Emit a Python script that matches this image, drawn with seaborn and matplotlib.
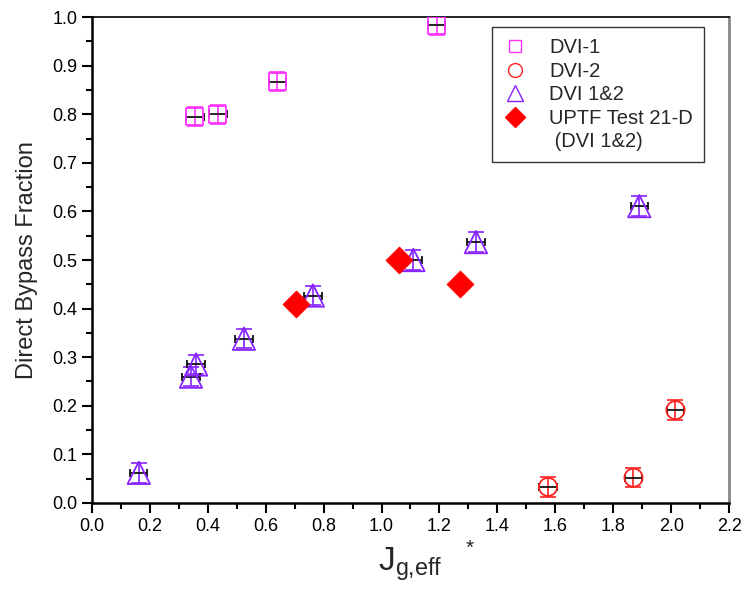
import matplotlib
matplotlib.use("Agg")
import matplotlib.pyplot as plt
import seaborn as sns
import pandas as pd
import numpy as np
from matplotlib.lines import Line2D
from matplotlib.ticker import MultipleLocator

sns.set_style("ticks")
plt.rcParams['font.family'] = ['Liberation Sans', 'DejaVu Sans']
plt.rcParams['mathtext.fontset'] = 'custom'
plt.rcParams['mathtext.rm'] = 'Liberation Sans'
plt.rcParams['mathtext.it'] = 'Liberation Sans'

# Data
dvi1_x = [0.356, 0.435, 0.64, 1.19]
dvi1_y = [0.795, 0.800, 0.867, 0.983]
dvi2_x = [1.575, 1.87, 2.015]
dvi2_y = [0.033, 0.052, 0.191]
dvi12_x = [0.162, 0.342, 0.36, 0.525, 0.763, 1.11, 1.326, 1.89]
dvi12_y = [0.062, 0.260, 0.285, 0.338, 0.427, 0.500, 0.537, 0.611]
uptf_x = [0.705, 1.06, 1.27]
uptf_y = [0.410, 0.500, 0.450]
xerr_val = 0.03
yerr_val = 0.02

series = ["DVI-1", "DVI-2", "DVI 1&2", "UPTF Test 21-D"]
frames = []
for name, xs, ys in [("DVI-1", dvi1_x, dvi1_y), ("DVI-2", dvi2_x, dvi2_y),
                     ("DVI 1&2", dvi12_x, dvi12_y), ("UPTF Test 21-D", uptf_x, uptf_y)]:
    frames.append(pd.DataFrame({"x": xs, "y": ys, "series": name}))
df = pd.concat(frames, ignore_index=True)

colors = {"DVI-1": "#ff33ff", "DVI-2": "#ff2020", "DVI 1&2": "#8822ff", "UPTF Test 21-D": "#ff0000"}
markers = {"DVI-1": "s", "DVI-2": "o", "DVI 1&2": "^", "UPTF Test 21-D": "D"}
sizes = {"DVI-1": 150, "DVI-2": 170, "DVI 1&2": 260, "UPTF Test 21-D": 190}

fig = plt.figure(figsize=(7.47, 5.91), dpi=100)
ax = fig.add_axes([0.123, 0.149, 0.853, 0.822])

for name in ["DVI-1", "DVI-2", "DVI 1&2"]:
    sub = df[df.series == name]
    ax.errorbar(sub.x, sub.y, yerr=yerr_val, fmt='none', ecolor=colors[name],
                elinewidth=1.2, capsize=6, capthick=1.2, zorder=2)
    ax.errorbar(sub.x, sub.y, xerr=xerr_val, fmt='none', ecolor='black',
                elinewidth=1.2, capsize=3, capthick=1.2, zorder=3)

for name in series:
    sub = df[df.series == name]
    if name == "UPTF Test 21-D":
        sns.scatterplot(data=sub, x="x", y="y", marker=markers[name], s=sizes[name],
                        color=colors[name], edgecolor=colors[name], linewidth=0.5,
                        ax=ax, zorder=4, legend=False)
    else:
        sns.scatterplot(data=sub, x="x", y="y", marker=markers[name], s=sizes[name],
                        facecolor='none', edgecolor=colors[name], linewidth=1.3,
                        ax=ax, zorder=4, legend=False)

ax.set_xlim(0, 2.2)
ax.set_ylim(0, 1.0)
xt = np.round(np.arange(0, 2.21, 0.2), 1)
yt = np.round(np.arange(0, 1.01, 0.1), 1)
ax.set_xticks(xt)
ax.set_xticklabels([f"{v:.1f}" for v in xt])
ax.set_yticks(yt)
ax.set_yticklabels([f"{v:.1f}" for v in yt])
ax.xaxis.set_minor_locator(MultipleLocator(0.1))
ax.yaxis.set_minor_locator(MultipleLocator(0.05))
ax.tick_params(which='major', direction='out', length=7, width=1.5, labelsize=13, color='black', labelcolor='black')
ax.tick_params(which='minor', direction='out', length=4, width=1.5, color='black')
for side in ['left', 'bottom']:
    ax.spines[side].set_linewidth(1.8)
    ax.spines[side].set_color('black')
ax.spines['top'].set_linewidth(1.2)
ax.spines['top'].set_color('black')
ax.spines['right'].set_linewidth(2.0)
ax.spines['right'].set_color('#888888')

ax.set_ylabel("Direct Bypass Fraction", fontsize=17, labelpad=10)
ax.set_xlabel(r"$\mathregular{J_{g{,}eff}}$", fontsize=24, labelpad=8)
fig.text(470 / 747, 1 - 548 / 591, "*", fontsize=15, ha='center', va='center')

handles = [
    Line2D([], [], marker='s', linestyle='none', markerfacecolor='none', markeredgecolor=colors["DVI-1"], markersize=9),
    Line2D([], [], marker='o', linestyle='none', markerfacecolor='none', markeredgecolor=colors["DVI-2"], markersize=10),
    Line2D([], [], marker='^', linestyle='none', markerfacecolor='none', markeredgecolor=colors["DVI 1&2"], markersize=11),
    Line2D([], [], marker='D', linestyle='none', markerfacecolor=colors["UPTF Test 21-D"], markeredgecolor=colors["UPTF Test 21-D"], markersize=10),
    Line2D([], [], linestyle='none'),
]
labels = ["DVI-1", "DVI-2", "DVI 1&2", "UPTF Test 21-D", " (DVI 1&2)"]
leg = ax.legend(handles, labels, loc='upper right', bbox_to_anchor=(0.961, 0.979),
                borderaxespad=0.0,
                fontsize=14.5, frameon=True, fancybox=False, edgecolor='black',
                handletextpad=1.1, labelspacing=0.22, borderpad=0.55, handlelength=1.2)
leg.get_frame().set_linewidth(1.0)

fig.savefig("out.png", dpi=100)
